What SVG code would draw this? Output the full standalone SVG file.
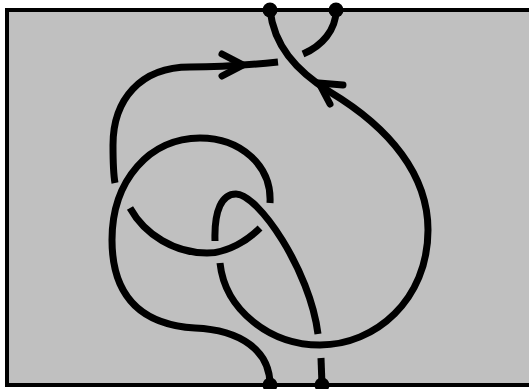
<svg xmlns="http://www.w3.org/2000/svg" width="529" height="389" viewBox="0 0 529 389">
<style>
.s{fill:none;stroke:#000;stroke-width:7;stroke-linecap:butt}
.a{fill:none;stroke:#000;stroke-width:7;stroke-linecap:round;stroke-linejoin:miter}
.d{fill:#000}
</style>
<rect x="0" y="0" width="529" height="389" fill="#fff"/>
<g id="frame"><rect x="7" y="10" width="530" height="375" fill="#c0c0c0" stroke="#000" stroke-width="4"/></g>
<g id="connectors">
<path class="s" d="M270,10 C274,45 295,70 330,92 C390,128 428,175 428,230 C428,300 375,345 320,345 C270,345 225,310 220,263"/>
<path class="s" d="M215,241 C214,210 222,194 236,194 C258,194 310,270 318,334"/>
<path class="s" d="M321,358 L322,385"/>
<path class="s" d="M336,10 C336,30 322,46 303,54"/>
<path class="s" d="M278,62 C250,65 215,67 190,67 C140,67 113,100 113,145 C113,160 113,172 115,183"/>
<path class="s" d="M130,208 C145,235 175,253 207,253 C228,253 248,240 260,228"/>
<path class="s" d="M270,203 C272,165 240,138 200,138 C150,138 112,180 112,240 C112,300 145,325 195,328 C240,330 270,350 270,385"/>
<path class="a" d="M222,54 L243,65 L222,76"/>
<path class="a" d="M343,85 L319,83 L330,104"/>
</g>
<g id="n1"><circle class="d" cx="270" cy="10" r="7.5"/></g>
<g id="n2"><circle class="d" cx="336" cy="10" r="7.5"/></g>
<g id="n3"><circle class="d" cx="270" cy="385" r="7.5"/></g>
<g id="n4"><circle class="d" cx="322" cy="385" r="7.5"/></g>
</svg>
